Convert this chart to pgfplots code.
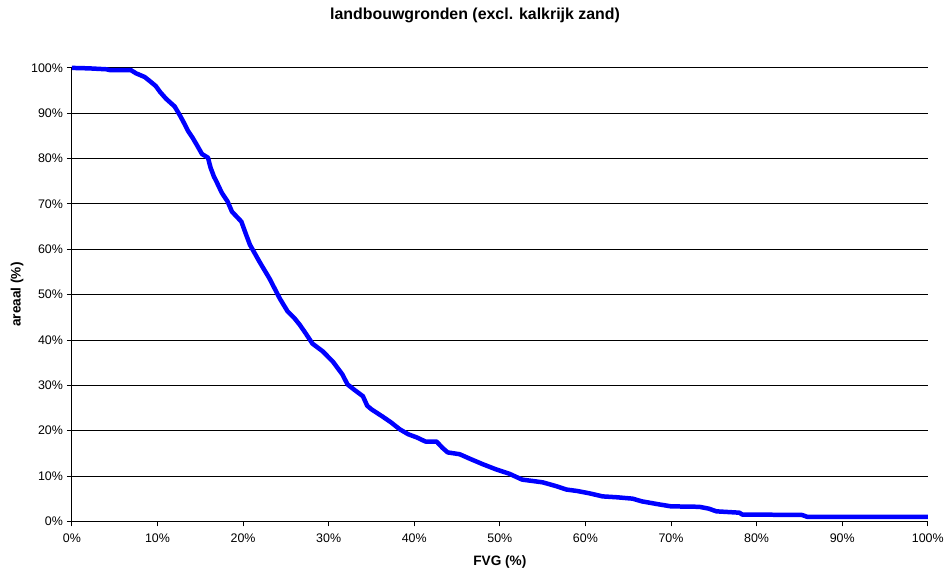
\documentclass[border=0pt]{standalone}
\usepackage{fontspec}
\setmainfont{Liberation Sans}
\usepackage{pgfplots}
\pgfplotsset{compat=1.18}
\begin{document}
\begin{tikzpicture}[x=1bp,y=1bp]
\begin{axis}[
  scale only axis,
  width=857bp, height=454bp,
  xmin=0, xmax=100, ymin=0, ymax=100,
  axis x line=bottom, axis y line=left,
  axis line style={-, black, line width=0.9bp},
  xtick={0,10,...,100}, ytick={0,10,...,100},
  xticklabels={0\%,10\%,20\%,30\%,40\%,50\%,60\%,70\%,80\%,90\%,100\%},
  yticklabels={0\%,10\%,20\%,30\%,40\%,50\%,60\%,70\%,80\%,90\%,100\%},
  tick align=outside, major tick length=5bp,
  tick style={black, line width=0.9bp},
  ymajorgrids, grid style={black, line width=0.9bp},
  ticklabel style={font=\fontsize{12.5}{15}\selectfont},
  xticklabel style={yshift=-4bp},
  yticklabel style={xshift=-0.5bp},
  title={\textbf{landbouwgronden (excl. kalkrijk zand)}},
  title style={font=\fontsize{16}{19}\selectfont, at={(rel axis cs:0.471,1.103)}, anchor=center},
  xlabel={\textbf{FVG (\%)}},
  xlabel style={font=\fontsize{13.7}{16}\selectfont, at={(rel axis cs:0.5,-0.090)}, anchor=center},
  ylabel={\textbf{areaal (\%)}},
  ylabel style={font=\fontsize{13.7}{16}\selectfont, at={(rel axis cs:-0.064,0.5)}, anchor=center, rotate=0},
  clip=false,
]
\addplot[blue, line width=4.5bp, line join=round] coordinates {
(0,100) (2,99.9) (4,99.7) (4.5,99.5) (6.9,99.5) (7.5,98.8) (8.5,98.0) (9.1,97.1)
(9.8,96.0) (10.3,94.7) (11,93.2) (12,91.5) (12.6,89.6) (13.2,87.5) (13.6,86)
(14.1,84.6) (14.6,83) (15.2,81) (15.9,80.2) (16.2,78) (16.6,76) (16.9,74.9)
(17.5,72.5) (18.2,70.5) (18.7,68.3) (19.8,66.1) (20.3,63.5) (20.8,61) (21.9,57.3)
(23.1,53.5) (24.3,49.1) (25.2,46.3) (26,44.8) (26.6,43.4) (27.3,41.5) (28.1,39.2)
(29.3,37.5) (30.5,35.2) (31.6,32.4) (32.2,30.2) (33,29) (34,27.6) (34.5,25.5)
(35,24.7) (36.3,23.1) (37.3,21.8) (38.3,20.3) (39.3,19.2) (40.3,18.5) (41.3,17.6)
(42.6,17.6) (43.3,16.2) (43.9,15.2) (45.3,14.8) (46.5,13.8) (48,12.6) (49.5,11.5)
(51.1,10.5) (52.6,9.2) (55,8.6) (56.5,7.8) (57.8,7.0) (59,6.7) (60.4,6.2) (62,5.5)
(63.7,5.3) (65.5,5.0) (66.6,4.4) (68.4,3.8) (70,3.3) (73.3,3.2) (74.4,2.8) (75.3,2.2)
(78,1.9) (78.3,1.5) (85.3,1.4) (85.9,1.0) (100,1.0)
};
\end{axis}
\path (current axis.south west) +(-72bp,-50bp) (current axis.north east) +(18bp,68bp);
\end{tikzpicture}
\end{document}
